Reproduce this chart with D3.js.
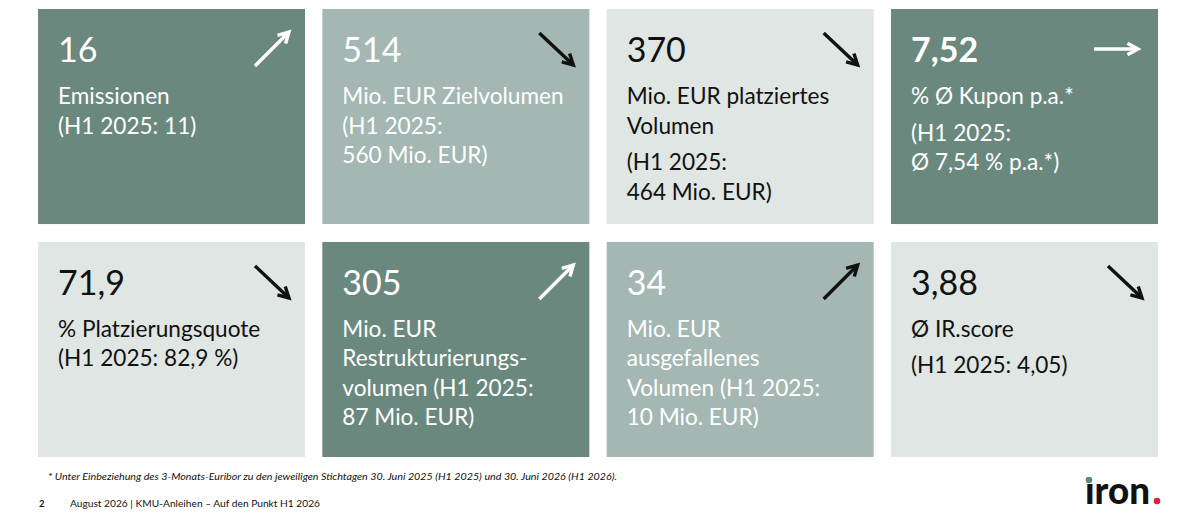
<!DOCTYPE html>
<html>
<head>
<meta charset="utf-8">
<script src="https://cdn.jsdelivr.net/npm/d3@7"></script>
<style>
  body { margin: 0; background: #fff; }
  svg text { font-family: Lato, "Open Sans", sans-serif; }
</style>
</head>
<body>
<svg id="kpi-svg"></svg>
<script>
// KPI values, H1 2026
var values = ["16", "514", "370", "7,52", "71,9", "305", "34", "3,88"];

// description paragraphs per tile (each paragraph is a list of lines)
var descriptions = [
  [["Emissionen", "(H1 2025: 11)"]],
  [["Mio. EUR Zielvolumen", "(H1 2025:", "560 Mio. EUR)"]],
  [["Mio. EUR platziertes", "Volumen"], ["(H1 2025:", "464 Mio. EUR)"]],
  [["% Ø Kupon p.a.*"], ["(H1 2025:", "Ø 7,54 % p.a.*)"]],
  [["% Platzierungsquote", "(H1 2025: 82,9 %)"]],
  [["Mio. EUR", "Restrukturierungs-", "volumen (H1 2025:", "87 Mio. EUR)"]],
  [["Mio. EUR", "ausgefallenes", "Volumen (H1 2025:", "10 Mio. EUR)"]],
  [["Ø IR.score"], ["(H1 2025: 4,05)"]]
];

var trends = ["up", "down", "down", "flat", "down", "up", "up", "down"];
var shades = ["dark", "medium", "light", "dark", "light", "dark", "medium", "light"];

var footnote = "* Unter Einbeziehung des 3-Monats-Euribor zu den jeweiligen Stichtagen 30. Juni 2025 (H1 2025) und 30. Juni 2026 (H1 2026).";
var pageNo = "2";
var footer = "August 2026 | KMU-Anleihen – Auf den Punkt H1 2026";

var width = 1187, height = 519;

var svg = d3.select('#kpi-svg')
  .attr('width', width)
  .attr('height', height);

var x = d3.scaleBand().domain([0, 1, 2, 3]).range([38, 1158]).paddingInner(0.061);
var y = d3.scaleBand().domain([0, 1]).range([9, 457]).paddingInner(0.077);

var fill = d3.scaleOrdinal()
  .domain(["dark", "medium", "light"])
  .range(["#6a887d", "#a4b7b2", "#dfe6e3"]);
var ink = d3.scaleOrdinal()
  .domain(["dark", "medium", "light"])
  .range(["#ffffff", "#ffffff", "#111111"]);
var arrowInk = d3.scaleOrdinal()
  .domain(["dark", "medium", "light"])
  .range(["#ffffff", "#111111", "#111111"]);

// arrow vectors, relative to arrow centre
var arrowDir = {
  up:   { cx: 234, x1: -17, y1: 17, x2: 17, y2: -17 },
  down: { cx: 234, x1: -17, y1: -16, x2: 17, y2: 16 },
  flat: { cx: 225, x1: -22, y1: 0, x2: 22, y2: 0 }
};

var tiles = svg.selectAll('g.tile')
  .data(values.map(function(v, i) { return { i: i, value: v }; }))
  .enter().append('g')
  .attr('class', 'tile')
  .attr('transform', function(d) {
    return 'translate(' + x(d.i % 4) + ',' + y(Math.floor(d.i / 4)) + ')';
  });

tiles.append('rect')
  .attr('width', x.bandwidth())
  .attr('height', y.bandwidth())
  .attr('fill', function(d) { return fill(shades[d.i]); });

tiles.append('text')
  .attr('x', 20)
  .attr('y', 53)
  .attr('font-size', 34)
  .attr('font-weight', function(d) { return d.i === 3 ? 700 : 400; })
  .attr('fill', function(d) { return ink(shades[d.i]); })
  .text(function(d) { return d.value; });

tiles.each(function(d) {
  var g = d3.select(this);
  var yy = 95;
  descriptions[d.i].forEach(function(par, p) {
    if (p > 0) yy += 7;
    par.forEach(function(line) {
      g.append('text')
        .attr('x', 20)
        .attr('y', yy)
        .attr('font-size', 22.6)
        .attr('fill', ink(shades[d.i]))
        .text(line);
      yy += 29.5;
    });
  });

  // trend arrow
  var a = arrowDir[trends[d.i]];
  var cx = a.cx, cy = 40;
  var col = arrowInk(shades[d.i]);
  var ang = Math.atan2(a.y2 - a.y1, a.x2 - a.x1);
  var head = 12, spread = 0.5;
  var tx = cx + a.x2, ty = cy + a.y2;
  var ag = g.append('g')
    .attr('stroke', col)
    .attr('stroke-width', 3.4)
    .attr('stroke-linecap', 'butt')
    .attr('fill', 'none');
  ag.append('line')
    .attr('x1', cx + a.x1).attr('y1', cy + a.y1)
    .attr('x2', tx).attr('y2', ty);
  ag.append('path')
    .attr('stroke-linejoin', 'miter')
    .attr('d', 'M' + (tx - head * Math.cos(ang - spread)) + ',' + (ty - head * Math.sin(ang - spread)) +
      'L' + tx + ',' + ty +
      'L' + (tx - head * Math.cos(ang + spread)) + ',' + (ty - head * Math.sin(ang + spread)));
});

// footnote and footer
svg.append('text')
  .attr('x', 48)
  .attr('y', 480)
  .attr('font-size', 9.5)
  .attr('font-style', 'italic')
  .attr('fill', '#111')
  .attr('textLength', 569)
  .attr('lengthAdjust', 'spacingAndGlyphs')
  .text(footnote);

svg.append('text')
  .attr('x', 39)
  .attr('y', 507)
  .attr('font-size', 9.5)
  .attr('font-weight', 700)
  .attr('fill', '#111')
  .text(pageNo);

svg.append('text')
  .attr('x', 70)
  .attr('y', 507)
  .attr('font-size', 9.5)
  .attr('fill', '#111')
  .attr('textLength', 250)
  .attr('lengthAdjust', 'spacingAndGlyphs')
  .text(footer);

// logo
var logo = svg.append('g').attr('transform', 'translate(1085,504)');
logo.append('text')
  .attr('x', 0)
  .attr('y', 0)
  .attr('font-size', 37)
  .attr('font-weight', 900)
  .attr('fill', '#111')
  .attr('textLength', 65)
  .attr('lengthAdjust', 'spacingAndGlyphs')
  .text('ıron');
logo.append('circle').attr('cx', 4).attr('cy', -24).attr('r', 3.3).attr('fill', '#5e8a7c');
logo.append('circle').attr('cx', 72).attr('cy', -3).attr('r', 3.3).attr('fill', '#e3203b');
</script>
</body>
</html>
